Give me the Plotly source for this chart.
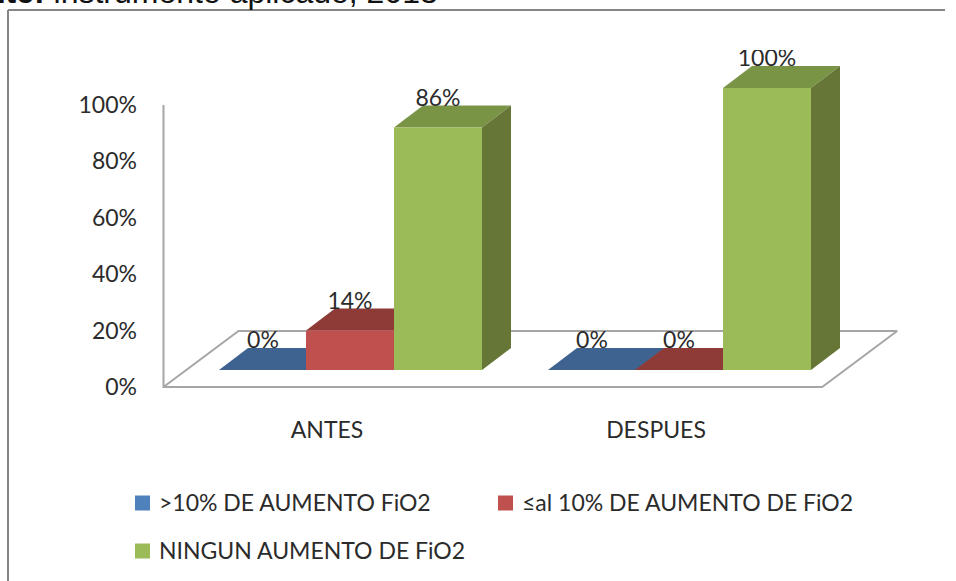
import plotly.graph_objects as go

categories = ["ANTES", "DESPUES"]
series_names = [">10% DE AUMENTO FiO2", "≤al 10% DE AUMENTO DE FiO2", "NINGUN AUMENTO DE FiO2"]
values_gt10 = [0, 0]
values_le10 = [14, 0]
values_none = [86, 100]
y_ticks = [0, 20, 40, 60, 80, 100]

W, H = 956, 581
X_SCALE = 329.0          # px per category
Y_SCALE = 2.82           # px per percent
X0_PX = 327.0            # px of category 0
Y0_PX = 387.0            # px of value 0
PLOT_L, PLOT_R, PLOT_T, PLOT_B = 154.0, 905.0, 50.0, 397.0

BAR_W = 88 / X_SCALE
BAR_LEFT = [-108 / X_SCALE, -21 / X_SCALE, 67 / X_SCALE]
DX = 29 / X_SCALE
DY = 22 / Y_SCALE
BASE = 17 / Y_SCALE
FLOOR_DX = 75 / X_SCALE
FLOOR_DY = 56 / Y_SCALE
AX_X0 = -0.497
AX_X1 = 1.505

FONT = "Lato, Carlito, sans-serif"
TEXT = "#2b2b2b"
GRID = "#a6a6a6"
front = ["#4F81BD", "#C0504D", "#9BBB59"]
top = ["#3E6391", "#8E3B38", "#7A9446"]
side = ["#334F73", "#723030", "#657636"]

fig = go.Figure()


def poly(xs, ys, color, name):
    fig.add_trace(go.Scatter(
        x=xs + xs[:1], y=ys + ys[:1], mode="lines", fill="toself", fillcolor=color,
        line=dict(width=0, color=color), hoverinfo="skip", showlegend=False, name=name))


# floor and back axis
fig.add_trace(go.Scatter(
    x=[AX_X0, AX_X0, AX_X1, AX_X1 + FLOOR_DX, AX_X0 + FLOOR_DX, AX_X0],
    y=[100, 0, 0, FLOOR_DY, FLOOR_DY, 0],
    mode="lines", line=dict(color=GRID, width=2), hoverinfo="skip", showlegend=False))

all_values = [values_gt10, values_le10, values_none]
for c in range(len(categories)):
    for s, vals in enumerate(all_values):
        v = vals[c]
        x0 = c + BAR_LEFT[s]
        x1 = x0 + BAR_W
        y0 = BASE
        y1 = BASE + v
        poly([x0, x1, x1 + DX, x0 + DX], [y1, y1, y1 + DY, y1 + DY], top[s], series_names[s])
        if v > 0:
            poly([x1, x1 + DX, x1 + DX, x1], [y0, y0 + DY, y1 + DY, y1], side[s], series_names[s])
            poly([x0, x1, x1, x0], [y0, y0, y1, y1], front[s], series_names[s])

# value labels
lx, ly, lt = [], [], []
for c in range(len(categories)):
    for s, vals in enumerate(all_values):
        lx.append(c + BAR_LEFT[s] + BAR_W / 2)
        ly.append(BASE + vals[c] + 27.5 / Y_SCALE)
        lt.append(f"{vals[c]}%")
fig.add_trace(go.Scatter(x=lx, y=ly, text=lt, mode="text", textposition="middle center",
                         textfont=dict(family=FONT, size=23, color=TEXT),
                         hoverinfo="skip", showlegend=False))


def px(x):
    return (x - PLOT_L) / (PLOT_R - PLOT_L)


def py(y):
    return (PLOT_B - y) / (PLOT_B - PLOT_T)


shapes = [
    dict(type="line", xref="paper", yref="paper", x0=px(8), x1=px(945), y0=py(10), y1=py(10),
         line=dict(color="#868686", width=2)),
    dict(type="line", xref="paper", yref="paper", x0=px(8), x1=px(8), y0=py(10), y1=py(581),
         line=dict(color="#868686", width=2)),
]
annotations = [
    dict(xref="paper", yref="paper", x=px(440), y=py(12), xanchor="right", yanchor="bottom",
         text="<b>nte:</b> instrumento aplicado, 2013", showarrow=False,
         font=dict(family="Liberation Sans, Arial, sans-serif", size=32, color="#111111")),
]
legend_pos = [(135, 503), (498, 503), (135, 551)]
for (lxp, lyp), name, col in zip(legend_pos, series_names, front):
    shapes.append(dict(type="rect", xref="paper", yref="paper", x0=px(lxp), x1=px(lxp + 15),
                       y0=py(lyp - 7.5), y1=py(lyp + 7.5), fillcolor=col, line=dict(width=0)))
    annotations.append(dict(xref="paper", yref="paper", x=px(lxp + 21.5), y=py(lyp - 1.5), xanchor="left",
                            yanchor="middle", text=name, showarrow=False,
                            font=dict(family=FONT, size=23, color=TEXT)))

fig.update_layout(
    width=W, height=H, autosize=False,
    paper_bgcolor="white", plot_bgcolor="white", showlegend=False,
    margin=dict(l=PLOT_L, r=W - PLOT_R, t=PLOT_T, b=H - PLOT_B, pad=0),
    shapes=shapes, annotations=annotations,
    xaxis=dict(range=[(PLOT_L - X0_PX) / X_SCALE, (PLOT_R - X0_PX) / X_SCALE],
               tickmode="array", tickvals=list(range(len(categories))), ticktext=categories,
               showgrid=False, zeroline=False, showline=False, ticks="",
               ticklabelstandoff=17, tickfont=dict(family=FONT, size=23, color=TEXT)),
    yaxis=dict(range=[(Y0_PX - PLOT_B) / Y_SCALE, (Y0_PX - PLOT_T) / Y_SCALE],
               tickmode="array", tickvals=y_ticks, ticktext=[f"{t}%" for t in y_ticks],
               showgrid=False, zeroline=False, showline=False, ticks="",
               ticklabelstandoff=16, tickfont=dict(family=FONT, size=23, color=TEXT)),
)
fig.write_html("out.html", config={"displayModeBar": False},
               post_script="document.body.style.margin='0';document.body.style.overflow='hidden';")
